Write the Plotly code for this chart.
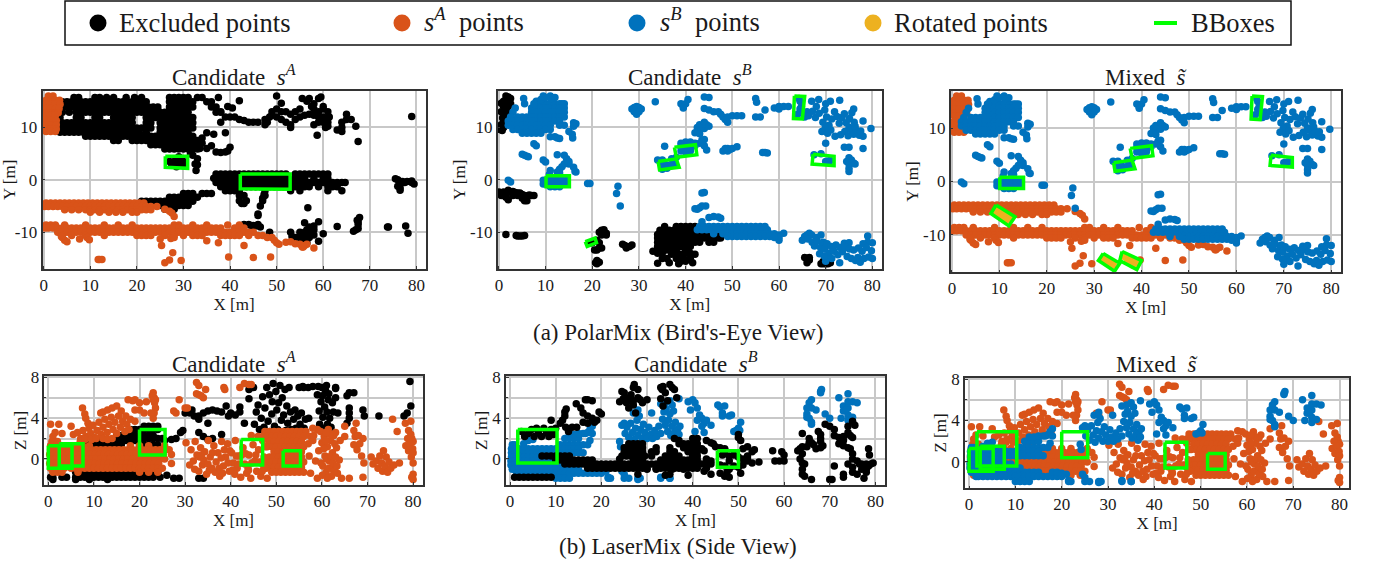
import plotly.graph_objects as go

BLACK, ORANGE, BLUE, YELLOW, GREEN = "#000000", "#D95319", "#0072BD", "#EDB120", "#00FF00"

# ---------- Bird's-eye view data: rows are (y, [x...]), dots are (x, y) ----------
BEV_A_EXCL_ROWS = [
 (15.7,[6.5,7.5,11,12,13.5,15,17.7,19.5,21,27,28,29,30,31,33,34,37.5]),
 (14.9,[4,5,6,7,8,9,10,11,12,13,14,15,16,17,18,19,20,21,22,27,28,29,30,31,32,35,36]),
 (13.9,[3.5,4.5,5.5,6.5,7.5,8.5,9.5,10.5,11.5,12.5,13.5,14.5,15.5,16.5,17.5,18.5,19.5,20.5,21.5,22.5,23.5,24.5,27,28,29,30,31,32,36,37]),
 (12.9,[4,5.5,7,8,9,10,11,12,13,14,15,16,17,18,19,20,21,22,23,24,25,26,27,28,29,30,31,37,38]),
 (11.9,[3.5,7,8,11,12,15,16,17,18,19,22,23,24,25,26,27,28,29,30,31,32]),
 (10.9,[3,4,5,6,7,8,9,10,11,12,13,14,15,16,17,18,19,22,23,25,26,27,28,29,30,31,32]),
 (9.9,[3,4,5,6,7,8,9,10,11,12,13,14,15,16,17,18,19,20,21,22,23,25,26,27,28,29,30,31,32]),
 (9.1,[3.5,4.5,5.5,6.5,7.5,8.5,9.5,10.5,11.5,12.5,13.5,14.5,15.5,16.5,17.5,18.5,19.5,20.5,22,25,26,27,28,29,30,31]),
 (8.3,[9,10,11,12,13,14,15,16,17,18,19,20,21,22,23,24,25,26,27,28,29,30,31,32]),
 (7.5,[15,16,19,20,21,22,23,24,25,26,27,28,29,30,31,32,33]),
 (6.7,[23,24,25,26,27,28,29,30,31,32,33]),
 (5.9,[26,27,28,29,30,31,32,33]),
 (1.1,[37,38,39,40,41,42,43,44,45,46,47,48,49,50,51,52,54,55,56,57,58,59,60,61]),
 (0.3,[36.5,37.5,38.5,39.5,40.5,41.5,42.5,43.5,44.5,45.5,46.5,47.5,48.5,49.5,50.5,51.5,52.5,54,55,56,58,60,61]),
 (-0.5,[37,38,39,40,41,42,43,44,45,46,47,48,49,50,51,52,53,54,55,56,57,58,59,60,61,62,63,64,64.7]),
 (-1.3,[38,39,40,41,42.5,43.5,44.5,45.5,46.5,47.5,48.5,49.5,50.5,51.5,52.5,54,55,56,57,59,61,62,63]),
 (-2.1,[39,40,41,42,47.5,53,55,61,64]),
 (-4.1,[21,22,23,24,25,26,27,28,29,30,31,32]),
 (-3.3,[27,28,29,30,31,32,33]),
 (-4.9,[24,25,26,27,28,29,30,31]),
 (-5.6,[26,27,28]),
 (-2.6,[30,31,32,34,35,36]),
]
BEV_A_EXCL_DOTS = [(33,4),(32,4.7),(32.5,3),(33,2.9),(32.7,1.8),(31.5,5),(27,3.5),(28,3.5),(29,3.5),(30,3.5),(27.5,2.8),(29,4.4),(28.5,2.5),(30,2.7),
 (34,8),(35,9),(34,7),(33.5,6),(35,6),(36,6.5),(36.5,8.7),(37,5.3),(38,5.2),(39,5.3),(39.5,5.5),(40,6.2),(39,9),(38,11),(39,12),(40,12),(41,12),(42,11.5),(43,11.3),(44,11),(45,11),(46,11),(38,13),(39.5,14),(40.5,13.7),(42,15.1),
 (47.5,11.5),(48,11),(47.5,10.5),(48.5,12),(49,12.3),(50,16),(51,14.6),(49,13),(50,13.5),(51,13),(52,13),(53,12.5),(54,13),(55,13.5),(50,12),(51,11.5),(52,11),(53,10.5),(53,10),(54,11.5),(55,12),(56,12.3),(57,12.5),(58,12.3),(59,12),(60,12),
 (55.5,15.5),(56.5,15),(57,15.5),(58,14.5),(59,15.5),(59.5,15.8),(60,14),(57.5,14),(58,13.5),(59,13),(60,13.5),(61,13),(61,11),(60,11),(60.5,10),(61,10.2),(59,11),(58,10.5),(58.7,8.5),(61.3,12),
 (63,9.5),(64,10),(64,11),(65,11.5),(66,11.5),(65,12.5),(67,10.2),(67.5,7.3),(79,12.1),(64,9.2),
 (42,-3),(42,-4),(42.5,-4.5),(43,-4.5),(43.5,-4),(43,-3),(47.5,-3),(47,-3.5),(47.3,-2.8),(46.5,-5),(46,-6.5),(46,-6.8),(47,-4),(56.7,-5.3),
 (42,-8.8),(43,-8.5),(44,-8.5),(44.5,-8.7),(45,-8.7),(45.5,-8.8),(46,-8.5),(46.5,-9),(48.5,-10),(56,-8.2),(59,-8),(58,-8.8),
 (53,-10),(53.3,-10.8),(54,-11),(55,-11),(55,-10),(56,-10),(56.5,-9.5),(57,-10),(57,-9),(58,-9.5),(56,-11),(57,-11),(55.5,-12),(56.5,-12),(58,-10.5),(59,-11.7),(60,-10.3),(63,-8.9),
 (66.5,-9.8),(67,-9.5),(67.5,-9.3),(67.5,-8.5),(67.5,-8),(67.8,-7.2),(67.3,-7.7),(73.8,-9),(74,-9),(77.7,-8.8),(78.2,-10.2),
 (75.5,0.2),(76,0),(76.5,-0.3),(77,-0.3),(77.5,-0.5),(78,-0.3),(79,-0.2),(79.5,-0.8),(76,-1.2),(76.5,-1.5),(76.5,-2),(79,-0.5)]

BEV_A_KEPT_ROWS = [
 (16,[1,2]),(15.2,[0.5,1.5,2.5,3.4]),(14.4,[0.5,1.5,2.5,3.5]),(13.6,[0.5,1.5,2.5,3.3]),(12.8,[0.5,1.5,2.5,3.1]),(12.3,[0.5,1.5,2.5]),
 (11.3,[0.5,1.5,2.7]),(10.5,[0.5,1.5,2.7]),(9.7,[0.5,1.5,2.7]),(9.2,[0.5,1.5,2.5]),
 (-4.4,[0.5,1.5,2.5,3.5,4.5,5.5,6.5,7.5,8.5,9.5,10.5,11.5,12.5,13.5,14.5,15.5,16.5,17.5,18.5,19.5,20.5,21.5]),
 (-5.1,[0.2,1,2,3,4,5,6,7,8,9,10,11,12,13,14,15,16,17,18,19,20,21,22,23,24.3]),
 (-5.7,[4.5,6,7.5,9,10,11,12,13,15,16,17,18,19,20,21,22,23]),
 (-6.2,[10,12,14,15.5,17,19,20]),
 (-8.6,[0.5,1.5,2.5,4.5,9,13,16,19,28,29,32,35,39.5,42]),
 (-9.2,[0.3,1,2,3,4,5,6,7,8,9,10,11,12,13,14,15,16,17,18,19,20,21,22,23,24,25,26,27,28,29,30,31,32,33,34,35,36,37,38,41,42,43]),
 (-10,[3,4,5,6,7,8,9,10,11,12,13,14,15,16,17,18,19,20,21,22,23,24,25,26,27,28,29,30,31,32,33,34,35,36,37,38,39,40,41,42,43,44,45]),
 (-10.6,[4,6,9,13,20,21,22,23,26,28,30,32,33,34,38,39,40,41,42,44,46,47]),
]
BEV_A_KEPT_DOTS = [(4,-11),(4.5,-11.5),(5,-11.8),(3.8,-10.8),(7.7,-11.3),(9.3,-11),(9.8,-11.4),(11.7,-15.2),(12,-15.2),(12.5,-15.2),
 (25,-11.3),(25.3,-12.5),(26,-15.8),(27,-15.3),(27.7,-13.9),(29.5,-15.4),(27.3,-11.2),(28,-11),(35,-11.6),(37.5,-12),(39.7,-14.7),(43,-12.5),(45,-14.8),(48.7,-14.7),
 (26,-5.6),(27,-6),(27.5,-6.3),(28,-7),(48,-11),(49,-11),(49.5,-11.5),(50,-12),(50.5,-12.3),(52,-11.9),(53,-11.8),(54,-12.2),(55,-12.3),(55.5,-12.8),(56,-12.5),(56.5,-12.3),(55.7,-12.8),(58,-13)]

BEV_B_EXCL_DOTS = [(1.5,16),(2,15.8),(2.5,15.5),(1,15),(1.5,15),(2,14.8),(2.5,14.5),(0.5,14.6),(1,14),(1.5,14.2),(2,14),(1.5,13),(0.5,13),(1,12.8),(2,12.8),(1.2,12),(0.8,11.8),(1.5,11.5),(1,11),(0.5,10.5),(1,10),(0.3,9.6),(0.7,9.4),
 (0,-2.3),(0.5,-2.5),(1,-2.3),(1.5,-2.5),(2,-2),(2.5,-2.3),(3,-2.2),(3.5,-2.4),(4,-2.5),(4.5,-2.5),(5,-2.8),(5.5,-3),(6,-3.1),(6.5,-2.9),(7,-3),(7.5,-3),(0.5,-3),(1.5,-3.3),(2,-3.8),(3,-3),(4,-3),(5,-3.5),(5.5,-4),(6,-4),(1.5,-3),
 (1.5,-10.4),(3.7,-10.6),(4,-10.7),(4.5,-10.7),(5,-10.7),(5.5,-10.6),
 (19.5,-12),(20,-12),(21.5,-10),(22,-9.6),(22.5,-9.5),(23,-10.2),(22,-10.5),(23,-10.5),(21,-11.5),(21.5,-12),(21.5,-13),(22,-13),(21,-13.4),(20.5,-13.4),(20.7,-15.8),(21,-16),(21.5,-15.7),(21,-15.4),(26.5,-12.3),(27,-12.5),(27.3,-13),(28,-12.7),(28.5,-12.4),
 (33,-13.6),(34,-13.3),(34,-14),(34.5,-13.8),(35,-14),(35,-15),(34,-15.9),(36,-15),(36.5,-15.8),(38,-15),(38.5,-16),(39,-15.5),(39.5,-14.8),(40,-15.5),(41,-14),(41.5,-15.8),(40,-14),(41,-15),
 (65.5,-14.8),(66,-15),(66.5,-14.8),(66,-15.8),(66.5,-15.3),(69,-16),(69.5,-16),(70,-16),(70.5,-16),(71,-15.8),(69.5,-15.5),(70.5,-15.5)]
BEV_B_EXCL_ROWS = [
 (-8.9,[35.5,38,39,40,41,42]),
 (-9.6,[34.5,35.5,36.5,37.5,38.5,39.5,40.5,41.5,42.5,43.5,44.5]),
 (-10.4,[34,35,36,37,38,39,40,41,42,43,44,45,46,47,48]),
 (-11.1,[34,35,36,37,38,39,40,41,42,43,44,45,46,47,47.5]),
 (-11.9,[34,35,36,37,38,39,40,41,42,43,45,46]),
 (-12.7,[34,35,36,37,38,39,40,41]),
 (-13.4,[35,36,37,38,40]),
 (-14.2,[37,38,39,41,42]),
]
BEV_B_KEPT_ROWS = [
 (14.5,[5.5,8,9,10,11,12,13,13.5,14]),
 (13.7,[3.5,7,8,9,10,11,12,13,14]),
 (12.9,[3,7,8,9,10,11,12,13,14]),
 (12,[2.5,4,5,6,7,8,9,10,11,12,13,14]),
 (11.2,[2,3,4,5,6,7,8,9,10,11,12,13]),
 (10.4,[2,3,4,5,6,7,8,9,10,11,13,14]),
 (9.6,[3,4,5,6,7,8,9,10,11]),
 (8.9,[5,6,7,8,9]),
 (-0.8,[9.5,10,11,12,13,14,14.5]),
 (-0.1,[9.5,10.5,11.5,12.5,13.5,14.5]),
 (-1.3,[11,12,13]),
 (-8.9,[43,44,45,46,47,48,49,50,51,52,53,54,55,56,57]),
 (-9.5,[42.5,43.5,44.5,45.5,46.5,47.5,48.5,49.5,50.5,51.5,52.5,53.5,54.5,55.5,56.5,57.5]),
 (-10.3,[46,48,49,50,51,52,53,54,55,56,57,58,59]),
 (-10.8,[49,50,51,52,53,54,55,56,57,58]),
]
BEV_B_KEPT_DOTS = [(5.3,15.5),(8,15),(9,15.3),(9.5,16),(10,15.7),(11,16),(11.2,15.5),(12,15.7),(7.5,14.5),(16,10.9),(16.5,10.7),(16,10.2),(15,9.2),(15.7,8.7),(15.8,8),(11,8.2),(12,8.2),(12.5,8),(13,7.9),(7.5,6.9),(8,6.5),
 (5,4.9),(5.5,4.7),(6,4.5),(6.3,4.4),(9.5,3.8),(10,3.4),(12.5,4.8),(14,4.7),(14.5,4),(15,3.5),(15,3),(14,3),(13.5,2.5),(13,2),(12.5,1.5),(13,1.3),(16,2.4),(16.5,1.5),(16.3,1.6),(11,1.8),(10.8,1),(2,-0.1),(2.5,-0.4),
 (19,-0.7),(19.5,-0.7),(25.5,-1.2),(25.2,-2.6),(26,-5),
 (28.5,13.5),(29,13.8),(29.5,14),(30,13.8),(30.5,13.5),(29,13),(30,13),(29.5,12.5),(33.5,14.9),(39,14.5),(39.5,14),(40,14.5),(40.5,15.3),(39.5,13.7),(44,15.8),(45,15.7),(44,13.6),(45,13.3),(46,13),
 (47,13),(47.5,12.5),(48,12),(48.5,11.5),(49,11),(49,12),(50,12.2),(51,12.2),(52,12.2),(55,15.5),(55.2,14.8),(55,12),(56,12),(57,13.3),
 (42.5,10),(43,9.5),(44,9.8),(43,10.5),(44,11),(44.5,10.5),(45,10.2),(42,9),(43,8.8),(43.5,7.6),(44,7.7),(43,7),(44,6.5),(44.5,5.7),(42,7),
 (39,7),(40,7.2),(41,7.2),(42,6.5),(39,6.3),(40,6),(41,6),(39,5.5),(40,5.3),(41,5.5),(35.5,6.4),(34,3.8),(35,3.8),(35,2.8),(36,2.8),(37,2.8),(37.5,3),(36,2.2),(35,2),(37,4),(38,4.3),
 (48,5.5),(48.5,6),(49,6),(49.5,5.8),(50,6),(51,6.3),(49,5.5),(57,5.2),(57.5,5.1),(56.5,5.2),
 (71,3.7),(70,3.5),(70.5,3.6),(67.5,4.8),(69,5),(75,4.2),(75.5,3.8),(75,3),(76,3.2),(76.3,3),(75,2.2),(75,1.6),(74.5,3.5),(74,6.2),(75,6.2),(78,6),
 (64.5,15),(64.8,14),(64.3,15.5),(64.5,13.5),(60,14),(61,14),(62,14),(59,13.7),(60,13.5),(65,13),(65.5,12),(67,15),(68,14),(68.5,15.3),(70,14.5),(71,15),(73,15.2),(76,13.5),(75,10),(79.7,9.8),(78,11.2),(70,7),(72,8.3),(66,13),(64,12.5),
 (66.3,12.2),(67.2,13.1),(67.8,11.9),(68.6,12.7),(69.4,11),(69.8,13.3),(70.2,12),(70.7,10.4),(71.3,11.6),(71.9,13),(72.4,12.1),(72.9,10.8),(73.5,11.9),(74,12.6),(74.4,10.9),(75.1,11.7),(75.6,12.8),(76.1,11),
 (69.2,9.2),(69.9,9.9),(70.4,8.9),(71.1,9.5),(73.2,8.6),(74.1,9.2),(74.8,8.4),(75.4,9.6),(76,8.7),(76.6,9.4),(77.2,8.5),(78,8.3),(77.5,9.3),(76.3,10.2),
 (44,-2.4),(43.5,-2.5),(44.3,-5),(42,-5.5),(42.5,-5.6),(43,-5.3),(43.5,-5),(45,-7.2),(46,-7),(47,-7.1),(47.5,-7.3),(43.5,-8),(60,-10.5),(61,-10.2),(60,-11.5),(60,-11),(59,-11),
 (65,-11.5),(65.5,-10.8),(66,-10.5),(66.5,-10.2),(67,-10.5),(68,-11),(69,-10.5),(79,-10.7),(79,-11.9),(80,-12),(78,-12.2),(77,-13),(74,-12.1),(75,-12),(70,-15.5),(73,-15.8),(80,-15),
 (66.2,-11.3),(67.1,-11.9),(67.6,-12.6),(68.2,-11.7),(68.9,-12.9),(69.5,-11.9),(69.8,-13.2),(70.3,-12.2),(70.7,-14),(71.2,-12.7),(71.8,-13.6),(72.2,-12.4),(72.6,-14.3),(73.1,-12.9),(73.6,-13.7),(74.2,-12.8),(74.6,-14.6),(75.1,-13.2),(75.5,-15),(76,-13.4),(76.4,-15.4),(76.9,-14.8),(77.4,-15.7),(77.8,-13.6),(78.2,-15),(78.7,-12.9),(79.2,-14.7),(79.8,-13.5),(70.2,-14.8),(71.3,-15),(68.7,-14.1),(69.7,-14.5)]
BEV_ROTATED_DOTS = [(9.5,-5.5),(10,-5.7),(10.5,-6),(11,-6.2),(11.5,-6.6),(12,-7),(12.5,-6.8),(10,-6.3),(10.8,-6.8),(11.3,-7.3),(9.5,-6),
 (32,-14.5),(32.7,-14.7),(33.5,-15),(34,-15.5),(33,-15.3),(33.7,-15.8),(32.3,-15),(37.5,-14.5),(38,-15),(38.7,-15.2),(37.5,-15.2),(38.2,-15.7),(36.2,-14),(37,-15)]

# ---------- Side view data: rows are (z, [x...]), dots are (x, z) ----------
SIDE_A_EXCL_ROWS = [
 (1.0,[5,6,7,8,9,10,11,12]),
 (1.4,[7,8,9,10,11,12,13,14,15,16]),
 (1.8,[11,12,13,14,15,16,17,18,19]),
 (2.3,[15,16,17,18,19,20,21,22,23]),
 (2.9,[18,19,20,21,22,23,24]),
 (3.2,[21,22,23,24]),
 (1.4,[20,21,22,23,24]),
 (2.0,[20,21,22,23,24,25]),
 (-1.3,[6,7,8,9,10,11,12,13,14,15,16,17,18,19,20,21,22,23,24]),
 (-1.8,[0.5,1,3,4,6,7,8,9,10,11,12,13,14,15,16,17,18,19,20,21,22,23,24.5]),
 (-2,[1,6,9,13]),
]
SIDE_A_EXCL_DOTS = [(25.5,1.8),(27,1.9),(28,2),(29,2.6),(29.5,2.8),(26,-1.6),(27.5,-1.9),(28.7,-1.9),(33,-1.9),(34,-1.9),
 (30,4.5),(31,4.5),(31.5,4.8),(32,4.2),(33,4.2),(33,3.9),(34,4.5),(35,4.7),(36,4.8),(37,4.7),(35,3.5),(33,2.6),(34,2.2),(35,1.9),(36,2),(38,2.4),(38,4.6),(39,5.2),(39.5,4.2),(40,4.5),(41,4.3),(42,5.1),(43,3.5),(42,4.6),(44,6.8),(44,5.9),(45,7),
 (45.2,3.4),(45.6,4.6),(46,5.3),(46.3,2.9),(46.7,4),(47,6.1),(47.3,3.1),(47.5,5),(47.9,7),(48.2,3.7),(48.5,6.3),(48.7,2.7),(49,4.4),(49.1,5.6),(49.3,7.4),(49.6,3.2),(49.9,6.6),(50.1,4.8),(50.3,2.9),(50.5,5.5),(50.8,7.2),(51.1,3.8),(51.3,6),(51.6,4.3),(51.9,6.8),(52.1,2.8),(52.3,5.2),(52.5,3.5),(52.8,7),(53.1,4.6),(53.3,2.9),(53.8,3.9),(54.1,4.8),(54.3,3),(54.7,4.2),(55,7),(55.2,3.4),(55.5,4.5),(55.8,7.1),(56.1,3),(56.4,3.9),(57.1,4),
 (59,6.3),(59.2,7.1),(59.4,4.7),(59.5,3.4),(59.8,5.6),(60,7),(60.1,6.2),(60.2,4.1),(60.4,3),(60.6,5.1),(60.8,6.7),(61,7.2),(61.1,4.6),(61.2,3.4),(61.4,5.8),(61.5,6.4),(61.7,4),(62,3.1),(62.3,5.5),(62.5,4.6),
 (57,7),(58,7.1),(63,6.9),(63,7),(66,6.5),(67,6.5),(63,6),(65.5,6.2),(66,5),(66,4),(66,4.5),(65.5,3.5),(63.5,4.5),(69,4.8),(69.3,4.2),(72.5,4.2),(78,4.2),(78.7,4.5),(79.5,5.2),(79.3,7.6),(56,7)]
SIDE_A_KEPT_ROWS = [
 (1.3,[0.5,2,3.5,6,7.5,9,18,20,22,25.5]),
 (0.9,[0.5,1.5,2.5,3.5,4.5,5.5,6.5,7.5,8.5,9.5,10.5,11.5,12.5,13.5,14.5,15.5,16.5,17.5,18.5,19.5,20.5,21.5,22.5,23.5,24.5,25.5,26.5]),
 (0.45,[0.3,1.2,2.2,3.2,4.2,5.2,6.2,7.2,8.2,9.2,10.2,11.2,12.2,13.2,14.2,15.2,16.2,17.2,18.2,19.2,20.2,21.2,22.2,23.2,24.2,25.2,27]),
 (0.0,[0.5,1.5,2.5,3.5,4.5,5.5,6.5,7.5,8.5,9.5,10.5,11.5,12.5,13.5,14.5,15.5,16.5,17.5,18.5,19.5,20.5,21.5,22.5,23.5,24.5,25.5]),
 (-0.45,[0.3,1.2,2.2,3.2,4.2,5.2,6.2,7.2,8.2,9.2,10.2,11.2,12.2,13.2,14.2,15.2,16.2,17.2,18.2,19.2,20.2,21.2,22.2,23.2,24.2,27]),
 (-0.9,[0.5,1.5,2.5,3.5,5,6,7,8,9,10,11,12,13,14,15,16,17,18,19,20,21,22,23,24,25]),
 (-1.3,[1,2,3,6.5,20,22,24]),
 (2.7,[47.5,48.5,49.5,50.5,51.5,52.5,53.5,54.5,55.5,56.5]),
 (2.2,[47,48,49,50,51,52,53,54,55,56,57.5]),
 (1.7,[48.5,49.5,50.5,51.5,52.5,53.5,54.5,55.5]),
 (1.2,[48,49,50,51,52,53,54,55,56]),
 (0.7,[49.5,50.5,51.5,52.5,53.5,54.5,55.5]),
 (0.2,[48.5,49.5,50.5,51.5,52.5,53.5,54.5,55.5]),
 (-0.3,[48,49,50,51,52,53,54,55,56]),
 (-0.8,[48.5,49.5,50.5,51.5,52.5,53.5,54.5,55.5]),
 (-1.3,[49,50,51,52,53,54,55,56]),
]
SIDE_A_KEPT_DOTS = [(0.5,3.4),(2.3,3.4),(5,3.2),(1,2.2),(1.5,2.6),(3,2.5),(0.8,1.7),(2,1.7),(7.5,5),(8,4.4),(8.2,4),(8.7,3.5),(11.5,4.5),(12,4.6),(13,4.8),(14,5),(15,5.2),(17.5,5.8),(18.5,5.7),(19,5.8),(20,5.5),(21.5,5.6),(19,4.8),(20,4.8),(21,4.5),(23,6.5),(23.2,6),(22.8,6.2),(23.3,5.5),(23.5,5),(23.2,4.5),(23,4),(22.5,4.5),(23.5,5.8),(23,5.8),(16,4.7),(17,4.2),
 (5.5,2.4),(6.4,2.6),(7.1,2),(7.6,2.8),(8.2,2.2),(8.9,3),(9.3,2.5),(9.8,3.3),(10.2,2.1),(10.7,2.8),(11.1,3.6),(11.6,2.4),(12,3.1),(12.4,3.9),(12.9,2.6),(13.3,3.4),(13.8,4.1),(14.2,2.9),(14.6,3.6),(15,2.5),(15.4,4.2),(15.8,3.1),(16.3,3.7),(16.8,2.7),(17.2,3.4),(18,3.9),(19,3.7),(17.7,2.9),
 (7,1.7),(8,1.9),(9.5,1.9),(10.5,2),(12,2),(13,1.9),(14,2),
 (28.7,5.8),(27.5,4.7),(28,4.5),(30,5),(30.5,5),(32.5,7.5),(33,7.2),(32.5,6.4),(33,6.3),(33.5,6.2),(34,6),(34.5,6.8),(38.5,7),(38.7,6.8),(42,7),(43,7.4),(44,7.3),(44.5,7.3),(75.5,3.9),(76.5,2.7),(78.3,3.5),(79.5,3.7),(79,2.8),(79.5,2.4),(79.7,2),(80,1.7),(80,-1.5),(79.7,-1.8),(80,-2),(47,1.8),(46,2.2),(44.5,2.3),(65,3.2),(67.5,3.5),(67,2.8),(63,2.6),(59,2.9),(58,3),
 (30.2,1.6),(31.3,0.9),(31.8,-0.2),(32.2,1.7),(32.6,0.4),(33,-1.2),(33.4,1.1),(33.8,-0.6),(34.3,0.7),(34.7,-1.5),(35.1,1.8),(35.5,0.2),(35.9,-0.9),(36.3,1.3),(36.8,-0.3),(37.2,0.6),(37.6,-1.7),(38,1.7),(38.4,-0.7),(38.9,0.2),(39.3,1.5),(39.7,-1.2),(40.2,0.6),(40.6,-0.4),(41,1.8),(41.4,-0.9),(41.8,0.3),(42.2,-1.8),(42.7,1.1),(43.1,-0.5),(43.5,-1.4),(44,0.4),(44.4,-1.9),(44.9,1.4),(45.3,-0.2),(45.7,-1.2),(46.1,0.9),(46.6,-1.7),(47.1,-0.6),(47.6,1.2),(48,-1.9),
 (31,-0.6),(32.1,-1),(33.2,0.2),(34.1,-0.1),(35,-0.5),(36,0.6),(36.6,-1.3),(37.5,-0.9),(37.9,0.1),(38.6,0.9),(39.4,-0.4),(39.8,0.8),(40.4,-1.1),(41.2,0.3),(41.7,-0.5),(42.4,0.4),(43.3,0.5),(43.8,-0.9),(44.6,-0.4),(45.5,0.4),(46.3,-0.3),(47.3,0.2),(47.8,-0.9),(33.6,0.4),(35.3,-1.1),(38.2,-1.4),(40.9,-1.5),(43.9,-1.1),(46.9,-1.2),
 (57,1.5),(57.2,0.3),(57.5,-1.4),(58,1.8),(58.2,2.3),(58.6,-0.2),(59,-1.9),(59.3,0.8),(59.7,2.7),(60,1.6),(60.2,-0.7),(60.5,2.2),(60.7,0.3),(60.9,-1.3),(61.2,1.2),(61.4,2.9),(61.6,-0.2),(61.9,1.8),(62.1,-1.7),(62.3,0.6),(62.6,2.3),(62.9,-0.8),(63.2,1.1),(63.4,-1.4),(63.8,-0.1),(64,1.8),(64.3,-1.9),(65,2.2),(66,-1.9),(67,1.4),(67.3,2.2),(67.7,0.9),(68,2.3),(68.3,1.5),(68.7,0.3),(69,2),(69.2,-0.4),(69,-1.8),
 (59.8,-0.4),(60.4,1),(60.8,1.8),(61,0),(61.5,-0.9),(62,0.3),(62.4,-0.4),(62.8,1.5),(63,0.2),(60.1,-1.6),(61.2,-1.9),(62.6,-1.2),(63.3,-0.7),(61.8,2.4),(60.9,2.6),
 (70.8,0.2),(71.2,-0.5),(71.9,-0.2),(72.3,-0.9),(72.7,0.3),(73.1,-0.4),(73.3,-1.2),(73.5,0.8),(73.8,-0.7),(74.1,0.2),(74.4,-1.3),(74.7,-0.3),(75.1,-0.9),(75.8,-0.6),(77,-0.4),
 (78.4,1.3),(78.8,2),(79,0.8),(79.3,1.5),(79.6,0.2),(79.9,1),(80,-0.4),(80,0.6)]

SIDE_B_EXCL_ROWS = [
 (-0.1,[10,11,12,13,14,15,16,17,18,27,28,29,33,34,35,36,37,38,39,40,41]),
 (-0.5,[12,13,14,15,16,17,18,19,20,21,22,23,24,25,26,27,28,29,30,31,32,33,34,35,36,37,38,39,40,41,42,43,44]),
 (-0.9,[17,18,19,20,21,22,23,24,25,26,27,28,29,30,32,33,34,35,36,37,38,39,40,41,43]),
 (0.3,[7,8,9,10,11,12,13,24.5,25.5,26.5,27.5,28.5,29.5,31,34,35,36,37,40,41]),
 (0.7,[25,26,27,28,29,31,32,35,36,39,40,41]),
 (1.1,[25,26,27,28,29,32,35,38,39,40,41]),
 (1.5,[26,27,28,29,37,38,39,40,41]),
 (-1.8,[1,2,3,4,5,6,7,8,9]),
]
SIDE_B_EXCL_DOTS = [(2.5,2.7),(3.2,2.2),(4,2.5),(4.7,2.9),(5.3,2.2),(5.8,3),(6.2,2.6),(6.9,2.2),(7.4,3),(8,2.6),(8.5,2.2),(9,2.9),(9.5,2.4),(10,3),(12.2,3.1),(12.8,2.7),(13.6,3.1),(14.6,3.1),
 (11,3.5),(11.5,3.8),(12,4.2),(12,4.6),(12.3,4.9),(9,3.8),(14.5,5.4),(15.5,5),(16.5,5.8),(17,5.8),(18,5.7),(16,4.5),(17,4.2),(18,4),(18.5,3.6),(16,3.6),(17,3.5),(19.5,4.6),(20,4.4),(19,3.8),
 (24,5.6),(24.8,5.9),(24.5,6.6),(25,6.5),(26,6),(25.5,5.5),(26,5),(27,5.3),(27,5.7),(26.5,6.3),(27,7),(27.2,7.3),(28,6.8),(28,6),(28.5,5.8),(29,5.5),(30,5.8),(27.5,4.5),(33,7),(33.5,7.1),(33.3,6.8),(33,5.9),(34,6.5),(35,7.3),(35.5,7),(36,6.8),(34.5,5.7),(33.5,5.2),(36.5,6),
 (36,2),(37,1.8),(39,0.8),(42,1),(42.5,0.8),(40,2),(41,2),(43,0),(44,-0.2),(35,-1.5),(35.5,-1),(39,-1.6),(42.5,-1.2),(38,-1),(34,-1.6),(32,-1),(30,-1),(28,-1.5),(24,0),
 (43,1.8),(44,1.6),(45,1.2),(46,1.1),(47,0.9),(44.5,1.5),(47,1),(50,2.4),(50,2.1),(50.5,1.8),(51,1),(52,1.2),(53,0.7),(53.5,0.9),(52,0.3),(52,0),(51,0),(50,0.2),(52,-0.2),(53,-0.4),(54.5,-0.3),(46.5,0.4),(47,0.5),(48,0.3),(49,0.4),(46,-0.6),(47,-0.7),(48,-0.2),(49,-0.7),(50,-0.8),(50.5,-1.4),(51,-0.6),(48,-1),(47.5,-1.3),(47,-1.7),(44,-1.5),(46,-1.4),(48,-1.8),
 (57.5,0.8),(59.5,0.7),(59,-0.2),(60,-0.2),(60,0.4),(58,-0.2),(63,0.8),(63.5,1),(64,1.2),(65,1.2),(65.5,1.6),(66,1.6),(66.5,1.4),(64,0.5),(63.5,0),(64,-0.4),(64.5,-0.5),(64,-1),(64,-1.5),(64.5,-1.7),(66,-2),(64,2.5),(65.5,2),(67,1),
 (67.5,2.7),(68,2.4),(68,2),(68,1.7),(68.5,1.3),(68,1.1),(69,3.4),(70,3.2),(71,2.9),(71,2.3),(72,2.1),(73,2.2),(73,1.8),(74,2.6),(74.5,2.3),(75,2.1),(75.5,3.3),(75,3.7),(74,3.2),(72,1.5),(73,1.3),(74,1.1),(74.5,1),(75,0.5),(75,0),(76,-0.2),(76.5,-0.5),(77,-0.5),(78,-0.5),(78.5,-0.7),(79,-0.5),(79.5,-0.4),(77,-1),(78,-1),(78,-1.3),(78.5,1),(78.7,0.4),(75,-0.8),(74,-0.5),(71,-0.7),(75,-1.3),(76,-1.5),(77.5,-1.9),(73,-1.8),(73,-1.5),(70,-2),(70.5,-2)]
SIDE_B_KEPT_ROWS = [
 (1.4,[0.5,1,11,12,13,14,15,16,17]),
 (1.0,[0.3,1,2,3,4,5,6,7,8,9,10,11,12,13,14,15]),
 (0.6,[0.3,1,2,3,4,5,6,7,8,9,10,11,12,13,14,15,16]),
 (0.2,[0.3,1,2,3,4,5,6,7]),
 (-0.2,[0.2,1,2,3,4,5,6,7,8,9]),
 (-0.6,[0.2,1,2,3,4,5,6,7,8,9,10,11]),
 (-1.0,[0.5,1,2,3,4,5,6,7,8,9,10,11,12,13,14,15]),
 (-1.4,[1.5,2,3,4,5,6,7,8,9,10,11,12,13,14,15,16,17,18,19,20]),
 (-1.9,[10,11,12,13,21.5,22,25,26,28,28.5,33,35]),
 (2.0,[12,13,14,15]),
]
SIDE_B_KEPT_DOTS = [(13,2.4),(14,2.4),(15,2.5),(16,2.5),(16.5,2.5),(17,2.6),(17.5,2.9),(18,3.2),(18,2.5),(17.5,1.8),(5,1.9),(4,1.8),(3,1.5),(24,1.7),(24.2,1.2),(25,3.5),(24.5,3.3),(27,4.5),(28,4.8),(31,4.5),(33,5.4),(34,5.5),(35,5.7),(37,5.9),(35.5,5.3),
 (25.2,2.5),(25.6,3.1),(26,2.1),(26.4,3.5),(26.8,2.6),(27.2,1.9),(27.5,3),(27.8,3.8),(28,2.3),(28.3,4.2),(28.6,2.9),(28.9,2),(29.2,3.4),(29.5,2.6),(30,2),(30.4,3.1),(30.8,2.4),(31.2,2),(31.7,2.8),(32.1,2.2),(32.6,3.2),(33,2.5),(33.4,3.9),(33.7,4.6),(34,3.3),(34.2,4.9),(34.5,2.7),(34.7,3.8),(35,4.4),(35.2,2.3),(35.5,3.2),(35.8,4.7),(36,2.6),(36.2,3.6),(36.5,2.1),(36.7,2.9),(37,2.4),(37.2,3.2),
 (39,5.6),(40,5.8),(40.5,5.5),(39.5,4.8),(41,5),(41.5,4.3),(42,4),(42.5,3.5),(43,3.8),(41,3.8),(42,3.2),(44,3.3),(40.5,2.7),(42.5,2.6),(45.5,5.3),(46,5.1),(47,5.2),(46.5,4.5),(46.5,4.2),(48,4.2),(48.5,4.3),(50.5,3.6),(50,3),(49.5,2.8),(50.3,2.8),(49,2.7),
 (65.5,5.5),(66,5.8),(65,5),(66,5),(65,4.4),(65,4.1),(66,3.6),(66,3.4),(65.5,4),(67,4.8),(68,6.6),(68.2,6.8),(68,6.5),(69,4.4),(70,4),(72,6),(74,6.4),(73,5.2),(74,5.6),(75,5.6),(76,5.5),(74,5),(73,4.7),(72.5,4),(74,4.3),(75,4.1),(73.5,4.8),(74,3.8),
 (21.5,-1.8),(25,-1.5),(28,-2),(33,-1.8),(35,-1.9),(24.5,-1.2),(21,-1.2),(18,-1),(19,-1),(20,-1.1)]

# ---------- Boxes: closed outlines in data units ----------
BEV_A_BOXES = [([26.1,30.9,30.9,26.1,26.1],[4.5,4.5,2.2,2.4,4.5]),
               ([42.2,52.9,52.9,42.2,42.2],[1.1,1.1,-1.8,-1.7,1.1])]
BEV_B_BOXES = [([10.1,15.1,15.1,10.1,10.1],[0.8,0.8,-1.3,-1.3,0.8]),
               ([34.1,38,38.6,34.4,34.1],[3.5,4.0,2.4,1.9,3.5]),
               ([37.6,42.1,42.4,38,37.6],[6.2,6.7,4.8,4.3,6.2]),
               ([63.3,65.5,65,63.1,63.3],[16,15.9,11.6,11.7,16]),
               ([67.3,71.8,71.8,67.1,67.3],[4.9,4.5,2.7,3,4.9])]
BEV_B_SMALL_BOX = [([18.5,20.6,20.9,18.9,18.5],[-11.8,-11.1,-12,-12.7,-11.8])]
BEV_MIX_BOXES = [([9.3,13.3,12,8.2,9.3],[-4.4,-6.6,-8.3,-6,-4.4]),
                 ([31.9,35.4,34.3,30.9,31.9],[-13.5,-15.3,-16.8,-14.8,-13.5]),
                 ([35.9,40,39,35.4,35.9],[-13.1,-14.8,-16.5,-14.8,-13.1])] + BEV_B_BOXES
SIDE_A_BOXES = [([0,5.2,5.2,0,0],[1.3,1.3,-0.9,-0.9,1.3]),
                ([2.4,7.6,7.6,2.4,2.4],[1.5,1.5,-0.7,-0.7,1.5]),
                ([20,25.6,25.6,20,20],[2.9,2.9,0.4,0.4,2.9]),
                ([42.3,47,47,42.3,42.3],[1.9,1.9,-0.6,-0.6,1.9]),
                ([51.5,55.3,55.3,51.5,51.5],[0.8,0.8,-0.7,-0.7,0.8])]
SIDE_B_BIG_BOX = [([1.7,10.3,10.3,1.7,1.7],[2.9,2.9,-0.4,-0.4,2.9])]
SIDE_B_BOXES = SIDE_B_BIG_BOX + [([45.4,50,50,45.4,45.4],[0.8,0.8,-0.8,-0.8,0.8])]

def xy(rows, dots=()):
    xs, ys = [], []
    for v, us in rows:
        xs += us
        ys += [v] * len(us)
    for a, b in dots:
        xs.append(a); ys.append(b)
    return xs, ys

W, H = 1375, 565
fig = go.Figure()

# pixel frames: left, right, top, bottom, x-range, y-range
PANELS = [
 (42.5,425.7,90.7,269,[-0.26,82],[-17,17]),
 (497.7,881.7,90.7,269,[-0.26,82],[-17,17]),
 (950.7,1340.7,90.7,272.3,[-0.26,82],[-17,17]),
 (44.3,422.7,376,485,[-0.88,82.1],[-2.55,8.13]),
 (506,885,376,485,[-0.88,82.1],[-2.55,8.13]),
 (965,1349.3,377.7,488.3,[-0.88,82.1],[-2.55,8.13]),
]
TITLES = ["Candidate&nbsp; <i>s<sup>A</sup></i>", "Candidate&nbsp; <i>s<sup>B</sup></i>", "Mixed&nbsp; <i>s̃</i>"] * 2
TITLE_Y = [76, 76, 77, 362, 362, 364]
FONT = "Liberation Serif"
INK = "#1a1a1a"

def ref(prefix, i):
    return prefix if i == 0 else f"{prefix}{i+1}"

def add(i, series, color):
    fig.add_trace(go.Scatter(x=series[0], y=series[1], mode="markers", xaxis=ref("x", i), yaxis=ref("y", i),
                             marker=dict(color=color, size=7.5, line=dict(width=0)), showlegend=False))

def boxes(i, bx, width=3.5):
    for x, y in bx:
        fig.add_trace(go.Scatter(x=x, y=y, mode="lines", xaxis=ref("x", i), yaxis=ref("y", i),
                                 line=dict(color=GREEN, width=width), showlegend=False))

a_ex = xy(BEV_A_EXCL_ROWS, BEV_A_EXCL_DOTS); a_k = xy(BEV_A_KEPT_ROWS, BEV_A_KEPT_DOTS)
b_ex = xy(BEV_B_EXCL_ROWS, BEV_B_EXCL_DOTS); b_k = xy(BEV_B_KEPT_ROWS, BEV_B_KEPT_DOTS)
sa_ex = xy(SIDE_A_EXCL_ROWS, SIDE_A_EXCL_DOTS); sa_k = xy(SIDE_A_KEPT_ROWS, SIDE_A_KEPT_DOTS)
sb_ex = xy(SIDE_B_EXCL_ROWS, SIDE_B_EXCL_DOTS); sb_k = xy(SIDE_B_KEPT_ROWS, SIDE_B_KEPT_DOTS)
rot = xy([], BEV_ROTATED_DOTS)

add(0, a_ex, BLACK); add(0, a_k, ORANGE); boxes(0, BEV_A_BOXES)
add(1, b_ex, BLACK); add(1, b_k, BLUE); boxes(1, BEV_B_BOXES + BEV_B_SMALL_BOX)
add(2, a_k, ORANGE); add(2, b_k, BLUE); add(2, rot, YELLOW); boxes(2, BEV_MIX_BOXES)
add(3, sa_ex, BLACK); add(3, sa_k, ORANGE); boxes(3, SIDE_A_BOXES)
add(4, sb_k, BLUE); add(4, sb_ex, BLACK); boxes(4, SIDE_B_BOXES)
add(5, sa_k, ORANGE); add(5, sb_k, BLUE); boxes(5, SIDE_A_BOXES + SIDE_B_BIG_BOX)

layout = {}
annots = []
for i, (l, r, t, b, xr, yr) in enumerate(PANELS):
    side = i >= 3
    ax = dict(domain=[l / W, r / W], range=xr, tickvals=[0,10,20,30,40,50,60,70,80], automargin=False,
              showgrid=True, gridcolor="#c8c8c8", gridwidth=1.5, zeroline=False, showline=True, mirror=True,
              linecolor="#333333", linewidth=1.5, ticks="inside", ticklen=3, tickcolor="#333333",
              tickfont=dict(family=FONT, size=17, color=INK), anchor=ref("y", i),
              title=dict(text="X [m]", font=dict(family=FONT, size=17, color=INK), standoff=0))
    ay = dict(domain=[1 - b / H, 1 - t / H], range=yr, automargin=False, showgrid=True, gridcolor="#c8c8c8", gridwidth=1.5, zeroline=False,
              showline=True, mirror=True, linecolor="#333333", linewidth=1.5, ticks="inside", ticklen=3, tickcolor="#333333",
              tickfont=dict(family=FONT, size=17, color=INK), anchor=ref("x", i),
              title=dict(text="Z [m]" if side else "Y [m]", font=dict(family=FONT, size=17, color=INK), standoff=0))
    if side:
        ay.update(tickvals=[0,4,8],
                  minor=dict(tickvals=[2,6], showgrid=True, gridcolor="#c8c8c8", gridwidth=1.5, ticks="inside", ticklen=2, tickcolor="#333333"))
    else:
        ay.update(tickvals=[-10,0,10], ticktext=["-10","0","10"])
    layout[f"xaxis{i+1}" if i else "xaxis"] = ax
    layout[f"yaxis{i+1}" if i else "yaxis"] = ay
    annots.append(dict(text=TITLES[i], x=(l + r) / 2 / W, y=1 - TITLE_Y[i] / H, xref="paper", yref="paper",
                       xanchor="center", yanchor="middle", showarrow=False, font=dict(family=FONT, size=23, color=INK)))

annots.append(dict(text="(a) PolarMix (Bird's-Eye View)", x=678/W, y=1-332/H, xref="paper", yref="paper", showarrow=False,
                   xanchor="center", yanchor="middle", font=dict(family=FONT, size=23, color=INK)))
annots.append(dict(text="(b) LaserMix (Side View)", x=678/W, y=1-546/H, xref="paper", yref="paper", showarrow=False,
                   xanchor="center", yanchor="middle", font=dict(family=FONT, size=23, color=INK)))

# legend strip on its own hidden axes
LEG_X = [98, 402, 637, 873]
LEG_COL = [BLACK, ORANGE, BLUE, YELLOW]
LEG_TXT = ["Excluded points", "<i>s<sup>A</sup></i>&nbsp; points", "<i>s<sup>B</sup></i>&nbsp; points", "Rotated points", "BBoxes"]
LEG_TXT_X = [117, 422, 658, 892, 1189]
LEG_TXT_Y = [23, 20, 20, 23, 23]
layout["xaxis7"] = dict(domain=[0, 1], range=[0, W], visible=False, anchor="y7", automargin=False)
layout["yaxis7"] = dict(domain=[1 - 46 / H, 1], range=[46, 0], visible=False, anchor="x7", automargin=False)
for lx, c, name in zip(LEG_X, LEG_COL, LEG_TXT):
    fig.add_trace(go.Scatter(x=[lx], y=[23], mode="markers", xaxis="x7", yaxis="y7", name=name,
                             marker=dict(color=c, size=17, line=dict(width=0)), showlegend=False))
fig.add_trace(go.Scatter(x=[1154, 1177], y=[23, 23], mode="lines", xaxis="x7", yaxis="y7", name="BBoxes",
                         line=dict(color=GREEN, width=4), showlegend=False))
for tx, ty, t in zip(LEG_TXT_X, LEG_TXT_Y, LEG_TXT):
    annots.append(dict(text=t, x=tx / W, y=1 - ty / H, xref="paper", yref="paper", xanchor="left", yanchor="middle", showarrow=False,
                       font=dict(family=FONT, size=26.5, color=INK)))

fig.update_layout(width=W, height=H, margin=dict(l=0, r=0, t=0, b=0), plot_bgcolor="rgba(0,0,0,0)", paper_bgcolor="white",
                  annotations=annots, showlegend=False,
                  shapes=[dict(type="rect", xref="paper", yref="paper", x0=65/W, x1=1291/W, y0=1-45/H, y1=1-1/H,
                               line=dict(color="#111111", width=1.5))],
                  **layout)
fig.write_html("out.html", config={"displayModeBar": False}, post_script="document.body.style.margin='0';")
